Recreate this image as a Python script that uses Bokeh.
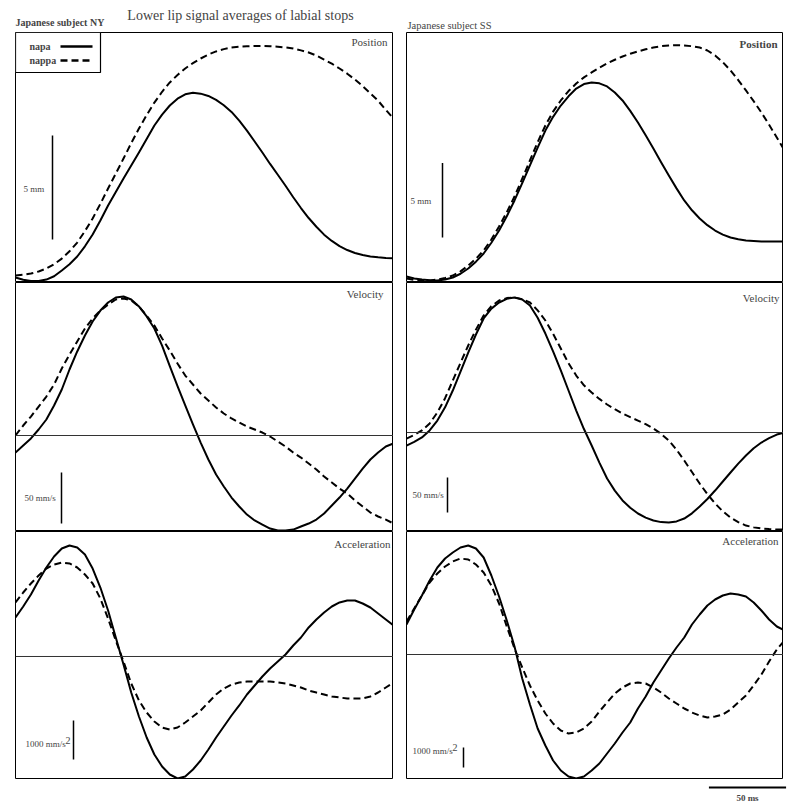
from bokeh.plotting import figure
from bokeh.layouts import column, row, Spacer
from bokeh.models import Span, Label, Range1d
from bokeh.embed import file_html
from bokeh.resources import INLINE

# ---------------- data ----------------
t_ms = [0, 5, 10, 15, 20, 25, 30, 35, 40, 45,
        50, 55, 60, 65, 70, 75, 80, 85, 90, 95,
        100, 105, 110, 115, 120, 125, 130, 135, 140, 145,
        150, 155, 160, 165, 170, 175, 180, 185, 190, 195,
        200, 205, 210, 215, 220, 225, 230, 235, 240, 245]

# Subject NY  (position mm, velocity mm/s, acceleration mm/s^2)
ny_pos_napa = [0.24, 0.13, 0.07, 0.07, 0.14, 0.30, 0.58, 0.88, 1.25, 1.74,
               2.31, 2.98, 3.70, 4.35, 5.00, 5.63, 6.25, 6.90, 7.55, 8.07,
               8.51, 8.84, 9.05, 9.12, 9.08, 8.97, 8.78, 8.52, 8.20, 7.78,
               7.30, 6.78, 6.25, 5.70, 5.18, 4.65, 4.10, 3.58, 3.10, 2.68,
               2.30, 2.00, 1.75, 1.56, 1.42, 1.32, 1.25, 1.21, 1.18, 1.16]
ny_pos_nappa = [0.34, 0.37, 0.43, 0.53, 0.67, 0.88, 1.15, 1.50, 1.92, 2.47,
                3.08, 3.78, 4.52, 5.24, 5.96, 6.70, 7.40, 8.05, 8.65, 9.17,
                9.62, 9.98, 10.29, 10.55, 10.77, 10.96, 11.11, 11.22, 11.30, 11.34,
                11.36, 11.37, 11.37, 11.36, 11.34, 11.30, 11.25, 11.16, 11.06, 10.91,
                10.72, 10.52, 10.29, 10.04, 9.76, 9.44, 9.09, 8.74, 8.30, 7.88]
ny_vel_napa = [-16.7, -9.8, -2.9, 5.9, 15.7, 29.4, 45.1, 64.7, 82.4, 98.0,
               111.8, 122.5, 130.4, 135.3, 136.3, 133.3, 126.5, 116.7, 104.9, 88.2,
               68.0, 48.5, 29.5, 11.0, -6.9, -23.5, -38.2, -50.0, -60.8, -69.6,
               -77.5, -83.3, -87.3, -91.2, -93.1, -93.1, -92.2, -89.2, -86.3, -82.4,
               -76.5, -68.6, -60.8, -52.0, -42.2, -32.4, -23.5, -16.7, -10.8, -7.8]
ny_vel_nappa = [0.0, 9.8, 18.6, 28.4, 38.2, 50.0, 65.7, 79.4, 92.2, 104.9,
                114.7, 122.5, 128.4, 133.3, 134.3, 132.4, 126.5, 117.6, 107.8, 95.1,
                83.3, 70.6, 58.8, 50.0, 41.2, 34.3, 27.5, 21.6, 16.7, 12.7,
                8.8, 5.9, 2.9, -1.0, -5.9, -10.8, -16.7, -21.6, -27.5, -33.3,
                -40.2, -46.1, -52.0, -56.9, -63.7, -69.6, -75.5, -79.4, -82.4, -86.3]
ny_acc_napa = [1000, 1282, 1590, 1949, 2282, 2564, 2769, 2846, 2795, 2615,
               2256, 1769, 1179, 487, -205, -923, -1538, -2077, -2513, -2821,
               -3026, -3128, -3077, -2897, -2667, -2385, -2077, -1795, -1513, -1256,
               -974, -744, -513, -308, -128, 51, 282, 487, 744, 949,
               1128, 1282, 1385, 1436, 1436, 1359, 1256, 1103, 949, 795]
ny_acc_nappa = [1385, 1641, 1872, 2077, 2256, 2359, 2410, 2385, 2282, 2103,
                1872, 1487, 974, 410, -128, -692, -1128, -1436, -1667, -1821,
                -1872, -1821, -1692, -1538, -1385, -1179, -974, -821, -718, -667,
                -641, -641, -641, -641, -667, -692, -744, -795, -872, -923,
                -974, -1026, -1051, -1077, -1077, -1077, -1026, -923, -795, -667]

# Subject SS
ss_pos_napa = [0.34, 0.20, 0.13, 0.08, 0.07, 0.13, 0.27, 0.52, 0.87, 1.33,
               1.88, 2.60, 3.42, 4.38, 5.44, 6.60, 7.79, 8.98, 10.13, 11.05,
               11.81, 12.43, 12.95, 13.25, 13.36, 13.30, 13.09, 12.68, 12.15, 11.45,
               10.67, 9.82, 8.93, 8.00, 7.11, 6.25, 5.44, 4.78, 4.23, 3.78,
               3.42, 3.15, 2.95, 2.83, 2.75, 2.71, 2.68, 2.68, 2.68, 2.68]
ss_pos_nappa = [0.20, 0.10, 0.07, 0.07, 0.13, 0.23, 0.40, 0.68, 1.07, 1.53,
                2.08, 2.82, 3.69, 4.65, 5.70, 6.90, 8.12, 9.35, 10.47, 11.40,
                12.15, 12.78, 13.29, 13.70, 14.03, 14.35, 14.63, 14.88, 15.10, 15.28,
                15.44, 15.58, 15.70, 15.79, 15.84, 15.86, 15.84, 15.79, 15.70, 15.50,
                15.17, 14.72, 14.16, 13.52, 12.82, 12.10, 11.34, 10.52, 9.66, 8.79]
ss_vel_napa = [-18.6, -13.5, -7.1, 3.0, 17.1, 36.0, 60.0, 87.0, 114.3, 140.0,
               162.9, 177.0, 185.7, 191.0, 192.9, 190.0, 181.4, 164.0, 141.4, 116.0,
               88.6, 60.0, 31.4, 5.0, -18.6, -43.0, -65.7, -83.0, -97.1, -107.5,
               -115.7, -121.5, -125.7, -128.0, -128.6, -127.0, -122.9, -115.5, -105.7, -95.0,
               -82.9, -70.0, -57.1, -44.5, -32.9, -22.5, -14.3, -8.0, -2.9, 0.0]
ss_vel_nappa = [-8.6, -3.5, 2.9, 13.0, 28.6, 49.0, 74.3, 99.5, 124.3, 147.0,
                167.1, 180.5, 188.6, 192.0, 192.9, 190.5, 185.7, 174.5, 160.0, 141.0,
                120.0, 99.0, 81.4, 67.5, 57.1, 48.0, 40.0, 33.3, 27.1, 22.0,
                17.1, 12.0, 5.7, -1.9, -11.4, -24.5, -40.0, -56.5, -72.9, -88.0,
                -101.4, -112.5, -121.4, -128.0, -132.9, -135.5, -137.1, -138.0, -138.6, -138.6]
ss_acc_napa = [1500, 2250, 2950, 3700, 4350, 4800, 5100, 5350, 5450, 5300,
               4850, 3950, 2900, 1700, 400, -1200, -2500, -3700, -4550, -5300,
               -5800, -6100, -6200, -6100, -5800, -5450, -4950, -4450, -3900, -3400,
               -2700, -2100, -1400, -800, -200, 350, 850, 1500, 2000, 2450,
               2750, 2950, 3050, 3000, 2900, 2600, 2200, 1750, 1400, 1200]
ss_acc_nappa = [1650, 2300, 2950, 3600, 4050, 4400, 4650, 4800, 4750, 4500,
                4100, 3450, 2550, 1400, 300, -650, -1550, -2300, -2950, -3450,
                -3800, -3950, -3900, -3700, -3350, -2850, -2400, -1950, -1650, -1450,
                -1400, -1450, -1650, -1900, -2200, -2450, -2700, -2900, -3050, -3150,
                -3100, -3000, -2750, -2400, -2050, -1550, -1000, -350, 250, 700]

series_names = ["napa", "nappa"]
panel_names = ["Position", "Velocity", "Acceleration"]
subjects = ["Japanese subject NY", "Japanese subject SS"]
scale_lengths = [5, 50, 1000]          # mm, mm/s, mm/s^2
scale_texts = ["5 mm", "50 mm/s", "1000 mm/s"]
time_bar_ms = 50
title_text = "Lower lip signal averages of labial stops"

# ---------------- layout / style ----------------
SERIF = "Liberation Serif"
PX_PER_MS = 1.543
COL_W = [378, 377]
ROW_H = [250, 249, 248]
Y_RANGES = [
    [(0.0, 12.02), (-0.067, 16.71)],
    [(-94.1, 150.0), (-141.4, 214.3)],
    [(-3154, 3205), (-6250, 6150)],
]
TITLE_POS = [[(6, 9, "normal"), (6, 11, "bold")],
             [(10, 11, "normal"), (4, 15, "normal")],
             [(3, 12, "normal"), (5, 9, "normal")]]
BAR_POS = [[(37, 207, 8, 156), (36, 205, 4, 168)],
           [(46, 241, 9, 215), (41, 230, 6, 212)],
           [(58, 228, 10, 212), (57, 236, 6, 219)]]

data = [
    [(ny_pos_napa, ny_pos_nappa), (ss_pos_napa, ss_pos_nappa)],
    [(ny_vel_napa, ny_vel_nappa), (ss_vel_napa, ss_vel_nappa)],
    [(ny_acc_napa, ny_acc_nappa), (ss_acc_napa, ss_acc_nappa)],
]


def base_fig(w, h, xr, yr, outline=True):
    p = figure(width=w, height=h, x_range=xr, y_range=yr,
               x_axis_type=None, y_axis_type=None,
               output_backend="svg", toolbar_location=None,
               min_border=0, min_border_left=0, min_border_right=0,
               min_border_top=0, min_border_bottom=0)
    p.grid.visible = False
    p.background_fill_color = "white"
    p.border_fill_color = "white"
    if outline:
        p.outline_line_color = "black"
        p.outline_line_width = 1
    else:
        p.outline_line_color = None
    return p


def to_data(p, w, h, dx, dy):
    xs, xe = p.x_range.start, p.x_range.end
    ys, ye = p.y_range.start, p.y_range.end
    return xs + dx / w * (xe - xs), ye - dy / h * (ye - ys)


LEFT_PAD = 15
rows = []
for r in range(3):
    figs = []
    for c in range(2):
        w, h = COL_W[c], ROW_H[r]
        yr = Range1d(*Y_RANGES[r][c])
        xr = Range1d(0, w / PX_PER_MS)
        p = base_fig(w, h, xr, yr)
        solid, dashed = data[r][c]
        if r > 0:
            p.add_layout(Span(location=0, dimension="width", line_color="#333333", line_width=1))
        p.line(t_ms, solid, line_color="black", line_width=2, line_join="round")
        p.line(t_ms, dashed, line_color="black", line_width=2, line_dash="7 4",
               line_join="round")

        tdx, tdy, tw = TITLE_POS[r][c]
        p.add_layout(Label(x=w - tdx, y=h - tdy, x_units="screen", y_units="screen",
                           text=panel_names[r], text_font=SERIF, text_font_size="11px",
                           text_font_style=tw, text_align="right", text_baseline="middle"))

        bdx, bdy, ldx, ldy = BAR_POS[r][c]
        bx, by = to_data(p, w, h, bdx, bdy)
        p.segment(x0=[bx], y0=[by], x1=[bx], y1=[by + scale_lengths[r]],
                  line_color="black", line_width=1.5)
        p.add_layout(Label(x=ldx, y=h - ldy, x_units="screen", y_units="screen",
                           text=scale_texts[r], text_font=SERIF, text_font_size="9px",
                           text_align="left", text_baseline="middle"))
        if r == 2:
            p.add_layout(Label(x=ldx + 40, y=h - ldy + 3, x_units="screen", y_units="screen",
                               text="2", text_font=SERIF, text_font_size="10px",
                               text_align="left", text_baseline="middle"))

        if r == 0 and c == 0:
            x0, y0 = to_data(p, w, h, 0, 0)
            x1, y1 = to_data(p, w, h, 85, 40)
            p.quad(left=[x0], right=[x1], top=[y0], bottom=[y1], fill_color="white",
                   line_color="black", line_width=1.2)
            for nm, dy, dash in [(series_names[0], 14, "solid"), (series_names[1], 28, "7 4")]:
                lx0, ly = to_data(p, w, h, 45, dy)
                lx1, _ = to_data(p, w, h, 77, dy)
                p.line([lx0, lx1], [ly, ly], line_color="black", line_width=2.5, line_dash=dash)
                p.add_layout(Label(x=14, y=h - dy, x_units="screen", y_units="screen",
                                   text=nm, text_font=SERIF, text_font_size="10px",
                                   text_font_style="bold", text_align="left",
                                   text_baseline="middle"))
        figs.append(p)
    rows.append(row(Spacer(width=LEFT_PAD, height=ROW_H[r]), figs[0],
                    Spacer(width=13, height=ROW_H[r]), figs[1], spacing=0))

# header
hdr = base_fig(790, 32, Range1d(0, 790), Range1d(0, 32), outline=False)
hdr.add_layout(Label(x=240, y=17, x_units="screen", y_units="screen", text=title_text,
                     text_font=SERIF, text_font_size="14px", text_align="center",
                     text_baseline="middle"))
hdr.add_layout(Label(x=15, y=10, x_units="screen", y_units="screen", text=subjects[0],
                     text_font=SERIF, text_font_size="10px", text_font_style="bold",
                     text_align="left", text_baseline="middle"))
hdr.add_layout(Label(x=407, y=7, x_units="screen", y_units="screen", text=subjects[1],
                     text_font=SERIF, text_font_size="10.5px", text_align="left",
                     text_baseline="middle"))

# footer with time scale bar
fw = 386
ftr = base_fig(fw, 22, Range1d(0, fw / PX_PER_MS), Range1d(0, 22), outline=False)
bar_start = 196
ftr.segment(x0=[bar_start], y0=[14], x1=[bar_start + time_bar_ms], y1=[14],
            line_color="black", line_width=2)
ftr.add_layout(Label(x=341, y=4, x_units="screen", y_units="screen",
                     text=f"{time_bar_ms} ms", text_font=SERIF, text_font_size="9px",
                     text_font_style="bold", text_align="center", text_baseline="middle"))

layout = column(hdr, rows[0], rows[1], rows[2],
                row(Spacer(width=LEFT_PAD + 378 + 13, height=22), ftr, spacing=0), spacing=0)

open("out.html", "w").write(file_html(layout, INLINE))
